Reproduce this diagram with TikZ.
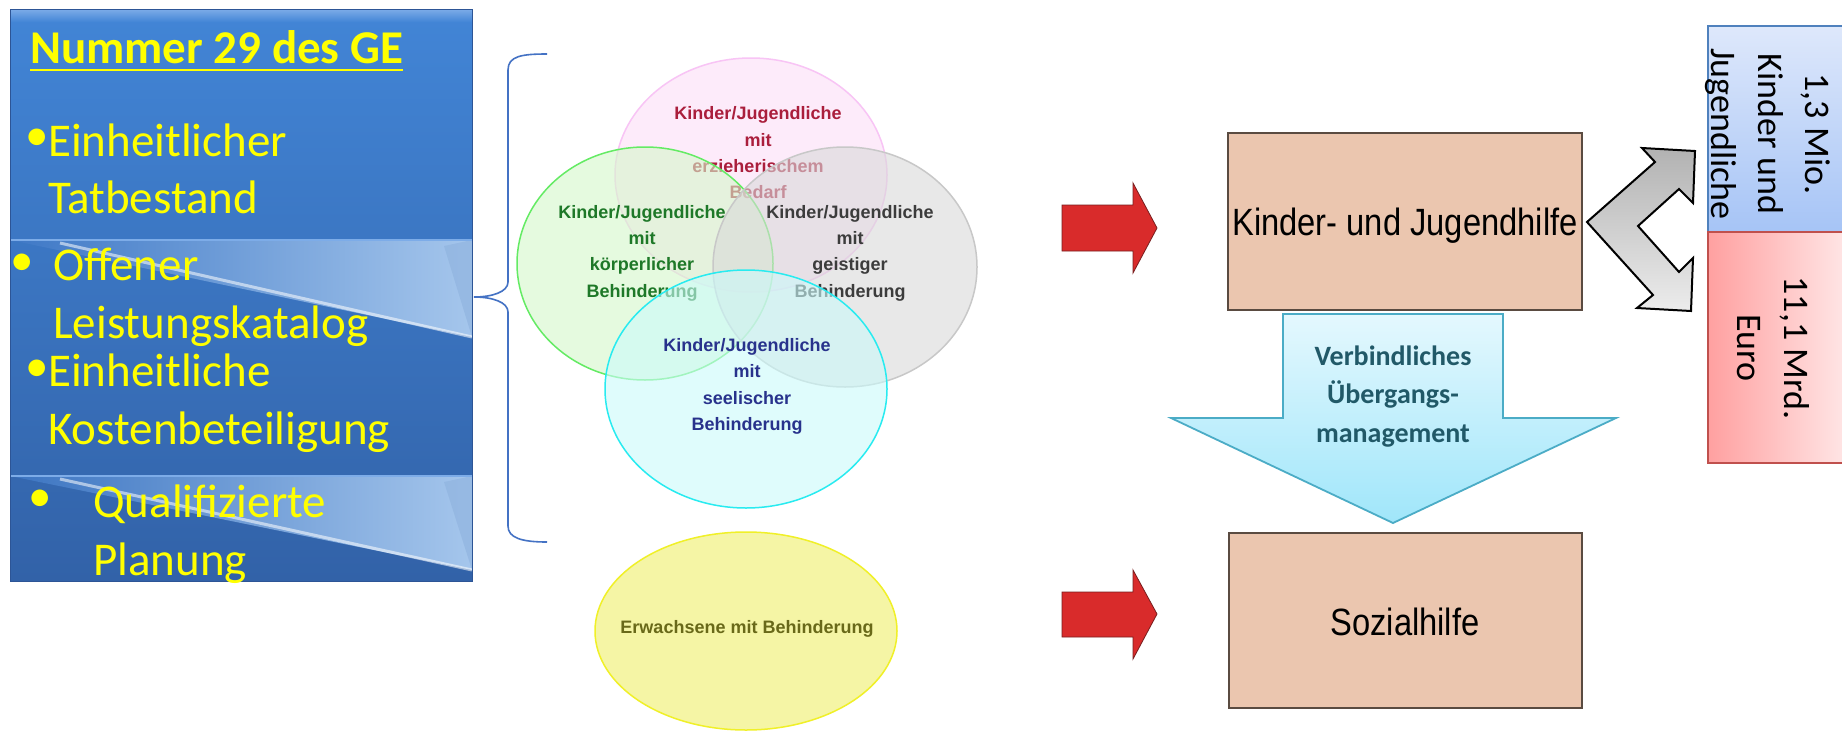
\documentclass[tikz,border=0pt]{standalone}
\usepackage{fontspec}
\setmainfont{Carlito}
\newfontfamily\arialf{Liberation Sans}
\usetikzlibrary{shapes.geometric}
\definecolor{lbTop}{RGB}{66,133,214}
\definecolor{lbBot}{RGB}{50,98,168}
\definecolor{lbHi}{RGB}{125,172,232}
\definecolor{bandL}{RGB}{62,120,198}
\definecolor{bandR}{RGB}{165,198,236}
\definecolor{lbEdge}{RGB}{45,85,150}
\definecolor{txtY}{RGB}{255,255,0}
\definecolor{braceC}{RGB}{68,114,196}
\definecolor{pinkF}{RGB}{252,222,247}
\definecolor{pinkD}{RGB}{248,196,245}
\definecolor{pinkT}{RGB}{170,30,60}
\definecolor{greenF}{RGB}{213,248,203}
\definecolor{greenD}{RGB}{100,235,100}
\definecolor{greenT}{RGB}{30,120,40}
\definecolor{greyF}{RGB}{217,217,217}
\definecolor{greyD}{RGB}{200,200,200}
\definecolor{greyT}{RGB}{60,60,60}
\definecolor{cyanF}{RGB}{203,250,250}
\definecolor{cyanD}{RGB}{40,235,240}
\definecolor{cyanT}{RGB}{40,50,140}
\definecolor{yelF}{RGB}{245,245,165}
\definecolor{yelD}{RGB}{240,240,40}
\definecolor{yelT}{RGB}{105,105,25}
\definecolor{redA}{RGB}{217,43,43}
\definecolor{redD}{RGB}{120,30,30}
\definecolor{peach}{RGB}{235,198,175}
\definecolor{peachD}{RGB}{90,75,65}
\definecolor{arrTop}{RGB}{228,248,254}
\definecolor{arrBot}{RGB}{160,230,250}
\definecolor{arrD}{RGB}{75,172,198}
\definecolor{arrT}{RGB}{33,89,104}
\definecolor{chevTop}{RGB}{178,178,178}
\definecolor{chevBot}{RGB}{236,236,236}
\definecolor{blTop}{RGB}{222,232,251}
\definecolor{blBot}{RGB}{166,196,246}
\definecolor{blD}{RGB}{79,129,189}
\definecolor{rdL}{RGB}{255,160,160}
\definecolor{rdR}{RGB}{255,228,228}
\definecolor{rdD}{RGB}{192,80,77}
\begin{document}
\begin{tikzpicture}[x=1pt,y=-1pt,
  lt/.style={text=txtY, inner sep=0pt, anchor=base west, font=\fontsize{47}{56}\selectfont},
  bul/.style={text=txtY, inner sep=0pt, font=\fontsize{47}{56}\selectfont},
  venn/.style={ellipse, inner sep=0pt, line width=1.5pt, fill opacity=0.6, draw opacity=1},
  venntxt/.style={align=center, inner sep=0pt, font=\arialf\bfseries\fontsize{18}{26.3}\selectfont},
  hbox/.style={rectangle, fill=peach, draw=peachD, line width=1.8pt, inner sep=0pt},
  htxt/.style={anchor=base, inner sep=0pt, font=\arialf\fontsize{38}{46}\selectfont},
  redarrow/.style={fill=redA, draw=redD, line width=0.8pt, line join=miter},
  atxt/.style={anchor=base, inner sep=0pt, text=arrT, font=\bfseries\fontsize{28}{38}\selectfont},
  rtxt/.style={rotate=-90, align=center, inner sep=0pt, font=\fontsize{36}{47}\selectfont},
]
\fill[white] (0,0) rectangle (1842,731);
\useasboundingbox (0,0) rectangle (1842,731);

% ---------- left blue panel ----------
\shade[top color=lbTop, bottom color=lbBot] (10,9) rectangle (472,581);
\shade[top color=lbHi, bottom color=lbTop] (10,9) rectangle (472,22);
\shade[left color=bandL, right color=bandR] (10,240) -- (472,240) -- (472,337) -- cycle;
\fill[bandR!80!lbBot, opacity=0.6] (444,246) -- (472,240) -- (472,337) -- cycle;
\draw[white, opacity=0.55, line width=3pt] (60,243) -- (472,337);
\draw[lbHi, line width=2pt] (10,240) -- (472,240);
\shade[left color=bandL!85!lbBot, right color=bandR] (10,476) -- (472,476) -- (472,570) -- cycle;
\fill[bandR!80!lbBot, opacity=0.6] (444,482) -- (472,476) -- (472,570) -- cycle;
\draw[white, opacity=0.55, line width=3pt] (60,479) -- (472,570);
\draw[lbHi, line width=2pt] (10,476) -- (472,476);
\draw[lbEdge, line width=1pt] (10,9) rectangle (472,581);

\node[lt, font=\bfseries\fontsize{47}{56}\selectfont] (title) at (30,63) {Nummer 29 des GE};
\draw[txtY, line width=2.5pt] ([yshift=-7pt]title.base west) -- ([yshift=-7pt]title.base east);
\node[bul] (b1) at (37.5,139.5) {•};
\node[lt] (l1) at (48,156) {Einheitlicher};
\node[lt] (l2) at (48,213) {Tatbestand};
\node[bul] (b2) at (22.5,264.5) {•};
\node[lt] (l3) at (53,280) {Offener};
\node[lt] (l4) at (53,338) {Leistungskatalog};
\node[bul] (b3) at (37.5,370.5) {•};
\node[lt] (l5) at (48,386) {Einheitliche};
\node[lt] (l6) at (48,444) {Kostenbeteiligung};
\node[bul] (b4) at (40.5,500.5) {•};
\node[lt] (l7) at (93,517) {Qualifizierte};
\node[lt] (l8) at (93,575) {Planung};

% ---------- brace ----------
\draw[braceC, line width=1.6pt] (547,54) .. controls (522,54) and (508,56) .. (508,70)
  -- (508,282) .. controls (508,292) and (492,297) .. (474,297)
  .. controls (492,297) and (508,302) .. (508,312)
  -- (508,526) .. controls (508,538) and (522,542) .. (547,542);

% ---------- Venn ----------
\node[venn, fill=pinkF, draw=pinkD, minimum width=272pt, minimum height=234pt] (pink) at (751,175) {};
\node[venntxt, text=pinkT] (pinkt) at (758,153) {Kinder/Jugendliche\\mit\\erzieherischem\\Bedarf};
\node[venn, fill=greenF, draw=greenD, minimum width=256pt, minimum height=233pt] (green) at (645,263.5) {};
\node[venntxt, text=greenT] (greent) at (642,253) {Kinder/Jugendliche\\mit\\körperlicher\\Behinderung};
\node[venn, fill=greyF, draw=greyD, minimum width=264pt, minimum height=240pt] (grey) at (845,267) {};
\node[venntxt, text=greyT] (greyt) at (850,253) {Kinder/Jugendliche\\mit\\geistiger\\Behinderung};
\node[venn, fill=cyanF, draw=cyanD, minimum width=282pt, minimum height=238pt] (cyan) at (746,389) {};
\node[venntxt, text=cyanT] (cyant) at (747,386.5) {Kinder/Jugendliche\\mit\\seelischer\\Behinderung};
\node[ellipse, inner sep=0pt, line width=1.5pt, fill=yelF, draw=yelD, minimum width=302pt, minimum height=198pt] (yel) at (746,631) {};
\node[venntxt, text=yelT, anchor=base] (yelt) at (747,633) {Erwachsene mit Behinderung};

% ---------- red arrows ----------
\path[redarrow] (1062,205) -- (1133,205) -- (1133,183) -- (1157,228) -- (1133,273) -- (1133,251) -- (1062,251) -- cycle;
\path[redarrow] (1062,592) -- (1133,592) -- (1133,570) -- (1157,614) -- (1133,659) -- (1133,637) -- (1062,637) -- cycle;

% ---------- boxes ----------
\node[hbox, minimum width=354pt, minimum height=177pt] (kj) at (1405,221.5) {};
\node[htxt] (kjt) at (1405,235) {\scalebox{0.86}[1]{Kinder- und Jugendhilfe}};
\node[hbox, minimum width=353pt, minimum height=175pt] (soz) at (1405.5,620.5) {};
\node[htxt] (sozt) at (1405,635) {\scalebox{0.86}[1]{Sozialhilfe}};

% ---------- down arrow ----------
\path[draw=arrD, line width=1.8pt, top color=arrTop, bottom color=arrBot, line join=miter]
  (1283,314) -- (1503,314) -- (1503,418) -- (1616,418) -- (1393,523) -- (1171,418) -- (1283,418) -- cycle;
\node[atxt] (v1) at (1393,365) {Verbindliches};
\node[atxt] (v2) at (1393,403) {Übergangs-};
\node[atxt] (v3) at (1393,442) {management};

% ---------- chevron ----------
\path[draw=black, line width=2pt, top color=chevTop, bottom color=chevBot, line join=miter]
  (1587,222) -- (1655,162) -- (1642,148) -- (1695,151) -- (1693,203) -- (1679,189)
  -- (1638,226) -- (1679,272) -- (1693,258) -- (1691,311) -- (1637,308) -- (1653,295) -- cycle;

% ---------- right boxes ----------
\shade[top color=blTop, bottom color=blBot] (1708,26) rectangle (1842,232);
\draw[blD, line width=1.8pt] (1842,26) -- (1708,26) -- (1708,232);
\shade[left color=rdL, right color=rdR] (1708,232) rectangle (1842,463);
\draw[rdD, line width=1.8pt] (1842,232) -- (1708,232) -- (1708,463) -- (1842,463);
\node[rtxt] (mio) at (1768,134) {1,3 Mio.\\Kinder und\\Jugendliche};
\node[rtxt] (mrd) at (1773,348) {11,1 Mrd.\\Euro};
\end{tikzpicture}
\end{document}
